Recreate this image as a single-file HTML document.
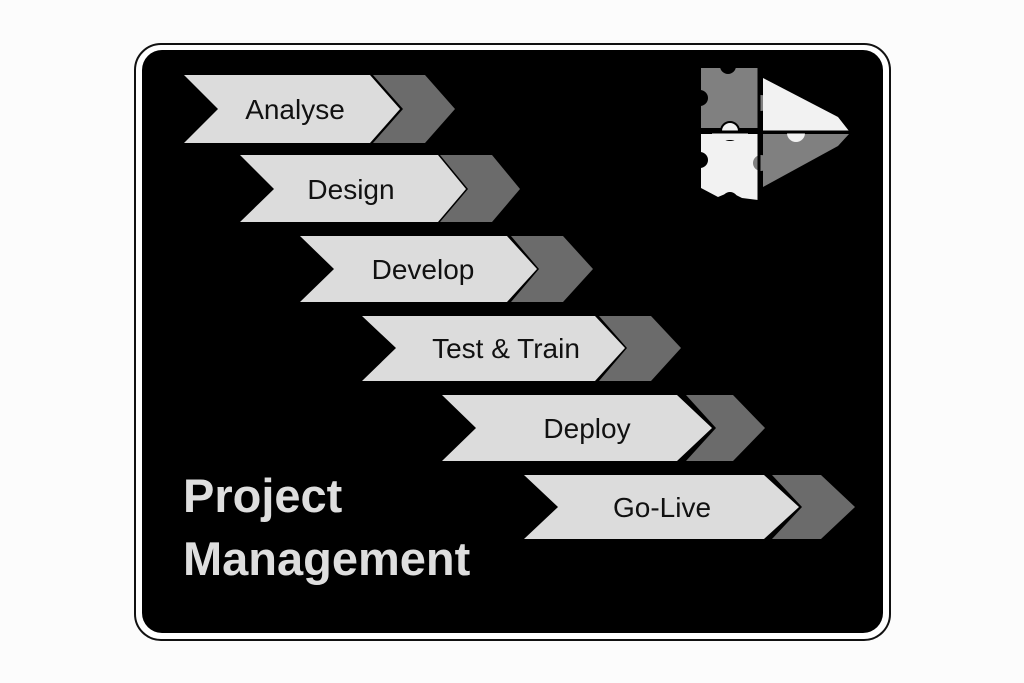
<!DOCTYPE html>
<html><head><meta charset="utf-8"><style>
html,body{margin:0;padding:0;background:#fff;}
svg{display:block;}
</style></head><body>
<svg width="1024" height="683" viewBox="0 0 1024 683" xmlns="http://www.w3.org/2000/svg">
<rect x="0" y="0" width="1024" height="683" fill="#fcfcfc"/>
<rect x="135" y="44" width="755" height="596" rx="26" fill="#fff" stroke="#111" stroke-width="2"/>
<rect x="142" y="50" width="741" height="583" rx="20" fill="#000"/>
<g font-family="Liberation Sans, sans-serif" font-size="28" fill="#111" text-anchor="middle">
<polygon points="373,75 425,75 455,109 425,143 373,143 403,109" fill="#6b6b6b"/>
<polygon points="184,75 370,75 400,109 370,143 184,143 218,109" fill="#dcdcdc"/>
<text x="295" y="119">Analyse</text>
<polygon points="440,155 492,155 520,189 492,222 440,222 468,189" fill="#6b6b6b"/>
<polygon points="240,155 438,155 466,189 438,222 240,222 274,189" fill="#dcdcdc"/>
<text x="351" y="199">Design</text>
<polygon points="511,236 563,236 593,269 563,302 511,302 539,269" fill="#6b6b6b"/>
<polygon points="300,236 507,236 537,269 507,302 300,302 334,269" fill="#dcdcdc"/>
<text x="423" y="279">Develop</text>
<polygon points="599,316 651,316 681,348 651,381 599,381 627,348" fill="#6b6b6b"/>
<polygon points="362,316 595,316 625,348 595,381 362,381 396,348" fill="#dcdcdc"/>
<text x="506" y="358">Test &amp; Train</text>
<polygon points="686,395 733,395 765,428 733,461 686,461 716,428" fill="#6b6b6b"/>
<polygon points="442,395 677,395 712,428 677,461 442,461 476,428" fill="#dcdcdc"/>
<text x="587" y="438">Deploy</text>
<polygon points="772,475 821,475 855,507 821,539 772,539 802,507" fill="#6b6b6b"/>
<polygon points="524,475 764,475 799,507 764,539 524,539 558,507" fill="#dcdcdc"/>
<text x="662" y="517">Go-Live</text>
</g>
<g font-family="Liberation Sans, sans-serif" font-size="47" font-weight="bold" fill="#dedede">
<text x="183" y="512">Project</text>
<text x="183" y="575">Management</text>
</g>
<g>
<polygon points="701,68 758,68 758,128 701,128" fill="#808080"/>
<circle cx="728" cy="66" r="8" fill="#000"/>
<circle cx="700" cy="98" r="8" fill="#000"/>
<circle cx="761" cy="103" r="8" fill="#808080"/>
<polygon points="763,78 838,117 849,131 763,131" fill="#f2f2f2"/>
<polygon points="701,134 758,134 758,200 742,198 730,192 718,197 701,188" fill="#f2f2f2"/>
<circle cx="730" cy="131" r="9" fill="#f2f2f2"/>
<circle cx="730" cy="131" r="9" fill="none" stroke="#000" stroke-width="2"/>
<rect x="712" y="132" width="36" height="8" fill="#f2f2f2"/>
<circle cx="700" cy="160" r="8" fill="#000"/>
<circle cx="730" cy="200" r="8" fill="#000"/>
<polygon points="763,134 849,134 838,146 763,187" fill="#808080"/>
<circle cx="796" cy="133" r="9" fill="#f2f2f2"/>
<circle cx="761" cy="163" r="8" fill="#808080"/>
<line x1="759" y1="68" x2="759" y2="200" stroke="#000" stroke-width="3"/>
<line x1="700" y1="132" x2="850" y2="132" stroke="#000" stroke-width="3"/>
</g>
</svg>
</body></html>
